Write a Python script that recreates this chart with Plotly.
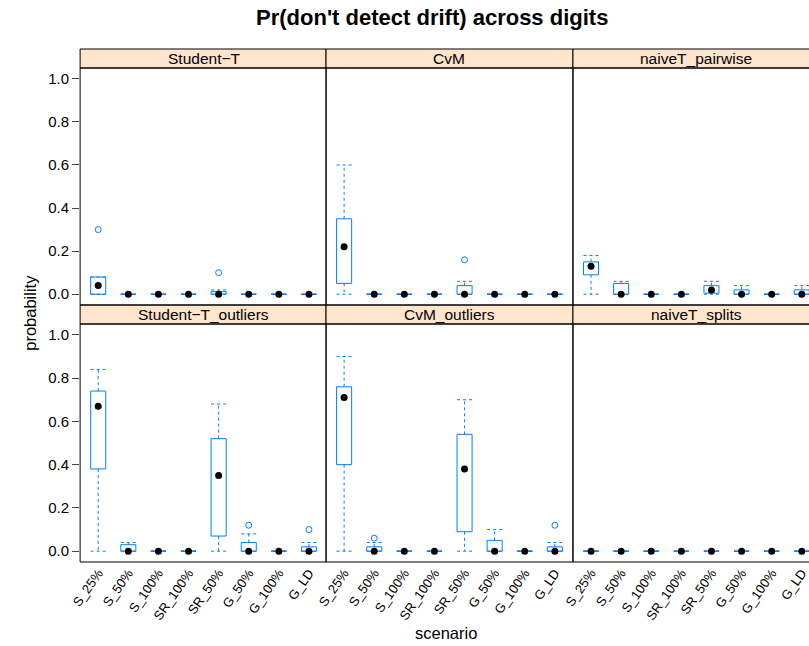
import plotly.graph_objects as go

W, H = 809, 646

scenarios = ["S_25%", "S_50%", "S_100%", "SR_100%", "SR_50%", "G_50%", "G_100%", "G_LD"]
y_ticks = [0.0, 0.2, 0.4, 0.6, 0.8, 1.0]

# ---- per-panel box statistics (lower whisker, Q1, median, Q3, upper whisker, outliers)
student_t = dict(
    lo=[0, 0, 0, 0, 0, 0, 0, 0],
    q1=[0, 0, 0, 0, 0, 0, 0, 0],
    med=[0.04, 0, 0, 0, 0, 0, 0, 0],
    q3=[0.08, 0, 0, 0, 0.012, 0, 0, 0],
    hi=[0.08, 0, 0, 0, 0.02, 0, 0, 0],
    out=[[0.30], [], [], [], [0.10], [], [], []],
)
cvm = dict(
    lo=[0, 0, 0, 0, 0, 0, 0, 0],
    q1=[0.05, 0, 0, 0, 0, 0, 0, 0],
    med=[0.22, 0, 0, 0, 0, 0, 0, 0],
    q3=[0.35, 0, 0, 0, 0.04, 0, 0, 0],
    hi=[0.60, 0, 0, 0, 0.06, 0, 0, 0],
    out=[[], [], [], [], [0.16], [], [], []],
)
naive_pairwise = dict(
    lo=[0, 0, 0, 0, 0, 0, 0, 0],
    q1=[0.09, 0, 0, 0, 0.005, 0, 0, 0],
    med=[0.13, 0, 0, 0, 0.02, 0, 0, 0],
    q3=[0.15, 0.05, 0, 0, 0.04, 0.02, 0, 0.02],
    hi=[0.18, 0.06, 0, 0, 0.06, 0.04, 0, 0.04],
    out=[[], [], [], [], [], [], [], []],
)
student_t_outliers = dict(
    lo=[0, 0, 0, 0, 0, 0, 0, 0],
    q1=[0.38, 0, 0, 0, 0.07, 0, 0, 0],
    med=[0.67, 0, 0, 0, 0.35, 0, 0, 0],
    q3=[0.74, 0.03, 0, 0, 0.52, 0.04, 0, 0.02],
    hi=[0.84, 0.04, 0, 0, 0.68, 0.08, 0, 0.04],
    out=[[], [], [], [], [], [0.12], [], [0.10]],
)
cvm_outliers = dict(
    lo=[0, 0, 0, 0, 0, 0, 0, 0],
    q1=[0.40, 0, 0, 0, 0.09, 0, 0, 0],
    med=[0.71, 0, 0, 0, 0.38, 0, 0, 0],
    q3=[0.76, 0.02, 0, 0, 0.54, 0.05, 0, 0.02],
    hi=[0.90, 0.04, 0, 0, 0.70, 0.10, 0, 0.04],
    out=[[], [0.06], [], [], [], [], [], [0.12]],
)
naive_splits = dict(
    lo=[0, 0, 0, 0, 0, 0, 0, 0],
    q1=[0, 0, 0, 0, 0, 0, 0, 0],
    med=[0, 0, 0, 0, 0, 0, 0, 0],
    q3=[0, 0, 0, 0, 0, 0, 0, 0],
    hi=[0, 0, 0, 0, 0, 0, 0, 0],
    out=[[], [], [], [], [], [], [], []],
)

# (title, stats, row[0=bottom,1=top], col)
panels = [
    ("Student\u2212T_outliers", student_t_outliers, 0, 0),
    ("CvM_outliers", cvm_outliers, 0, 1),
    ("naiveT_splits", naive_splits, 0, 2),
    ("Student\u2212T", student_t, 1, 0),
    ("CvM", cvm, 1, 1),
    ("naiveT_pairwise", naive_pairwise, 1, 2),
]

BLUE = "#0080ff"
STRIP_BG = "#ffe5cc"
FONT = "Liberation Sans, Arial, sans-serif"

col_px = [(71, 320), (320, 570), (570, 809)]
full_col_w = 250.0
row_plot_px = {0: (324, 562), 1: (68, 305)}
row_strip_px = {0: (305, 324), 1: (49, 68)}
Y_RANGE = [-0.05, 1.05]
HALF = 0.25


def px_x(p):
    return p / W


def px_y(p):
    return 1 - p / H


fig = go.Figure()
layout = dict(
    width=W, height=H,
    margin=dict(l=0, r=0, t=0, b=0),
    paper_bgcolor="white", plot_bgcolor="white",
    showlegend=False,
    font=dict(family=FONT, color="black"),
)
shapes = []
annotations = []

n = len(scenarios)
for k, (name, st, row, col) in enumerate(panels):
    ax = k + 1
    xs = "x" if ax == 1 else f"x{ax}"
    ys = "y" if ax == 1 else f"y{ax}"
    xa = "xaxis" if ax == 1 else f"xaxis{ax}"
    ya = "yaxis" if ax == 1 else f"yaxis{ax}"

    c0, c1 = col_px[col]
    r0, r1 = row_plot_px[row]
    units_per_px = (n + 0.2) / full_col_w
    xr = [0.4, 0.4 + (c1 - c0) * units_per_px]

    layout[xa] = dict(
        domain=[px_x(c0), px_x(c1)], range=xr, anchor=ys,
        showgrid=False, zeroline=False, showline=False,
        tickmode="array", tickvals=list(range(1, n + 1)), ticktext=scenarios,
        showticklabels=(row == 0), ticks="", tickangle=-55,
        ticklabeloverflow="allow",
        tickfont=dict(size=13, family=FONT, color="black"),
    )
    layout[ya] = dict(
        domain=[px_y(r1), px_y(r0)], range=Y_RANGE, anchor=xs,
        showgrid=False, zeroline=False, showline=False,
        tickmode="array", tickvals=y_ticks, ticktext=[f"{v:.1f}" for v in y_ticks],
        showticklabels=(col == 0), ticks=("outside" if col == 0 else ""),
        ticklen=7, tickcolor="#444", tickwidth=1,
        tickfont=dict(size=15, family=FONT, color="black"),
    )

    bx, by = [], []
    wx, wy = [], []
    for i in range(n):
        xc = i + 1
        q1, q3, lo, hi = st["q1"][i], st["q3"][i], st["lo"][i], st["hi"][i]
        bx += [xc - HALF, xc + HALF, xc + HALF, xc - HALF, xc - HALF, None]
        by += [q1, q1, q3, q3, q1, None]
        wx += [xc, xc, None, xc, xc, None]
        wy += [q3, hi, None, q1, lo, None]
        wx += [xc - HALF, xc + HALF, None, xc - HALF, xc + HALF, None]
        wy += [hi, hi, None, lo, lo, None]

    fig.add_trace(go.Scatter(x=wx, y=wy, xaxis=xs, yaxis=ys, mode="lines",
                             line=dict(color=BLUE, width=1, dash="3px,3px"),
                             hoverinfo="skip"))
    fig.add_trace(go.Scatter(x=bx, y=by, xaxis=xs, yaxis=ys, mode="lines",
                             line=dict(color=BLUE, width=1), hoverinfo="skip"))
    ox, oy = [], []
    for i in range(n):
        for v in st["out"][i]:
            ox.append(i + 1)
            oy.append(v)
    if ox:
        fig.add_trace(go.Scatter(x=ox, y=oy, xaxis=xs, yaxis=ys, mode="markers",
                                 marker=dict(symbol="circle-open", size=6,
                                             color=BLUE, line=dict(width=1, color=BLUE))))
    fig.add_trace(go.Scatter(x=list(range(1, n + 1)), y=st["med"], xaxis=xs, yaxis=ys,
                             mode="markers",
                             marker=dict(symbol="circle", size=7, color="black")))

    s0, s1 = row_strip_px[row]
    c1e = c1 if col < 2 else 819
    shapes.append(dict(type="rect", xref="paper", yref="paper",
                       x0=px_x(c0), x1=px_x(c1e), y0=px_y(s1), y1=px_y(s0),
                       fillcolor=STRIP_BG, line=dict(color="black", width=1), layer="below"))
    annotations.append(dict(text=name, xref="paper", yref="paper",
                            x=px_x(c0 + 125), y=px_y((s0 + s1) / 2),
                            xanchor="center", yanchor="middle", showarrow=False,
                            font=dict(size=15.5, family=FONT, color="black")))
    shapes.append(dict(type="rect", xref="paper", yref="paper",
                       x0=px_x(c0), x1=px_x(c1e), y0=px_y(r1), y1=px_y(r0),
                       fillcolor="rgba(0,0,0,0)", line=dict(color="black", width=1),
                       layer="above"))

annotations.append(dict(text="<b>Pr(don't detect drift) across digits</b>",
                        xref="paper", yref="paper", x=px_x(427), y=px_y(18),
                        xanchor="center", yanchor="middle", showarrow=False,
                        font=dict(size=22, family=FONT, color="black")))
annotations.append(dict(text="probability", xref="paper", yref="paper",
                        x=px_x(20), y=px_y(313), textangle=-90,
                        xanchor="center", yanchor="middle", showarrow=False,
                        font=dict(size=16.5, family=FONT, color="black")))
annotations.append(dict(text="scenario", xref="paper", yref="paper",
                        x=px_x(441), y=px_y(633),
                        xanchor="center", yanchor="middle", showarrow=False,
                        font=dict(size=16.5, family=FONT, color="black")))

layout["shapes"] = shapes
layout["annotations"] = annotations
fig.update_layout(**layout)
fig.write_html(
    "out.html",
    config={"displayModeBar": False, "staticPlot": True},
    post_script=(
        "document.body.style.margin='0';document.body.style.overflow='hidden';"
        "var d=document.getElementById('{plot_id}');"
        "d.style.position='absolute';d.style.left='0px';d.style.top='0px';"
    ),
)
